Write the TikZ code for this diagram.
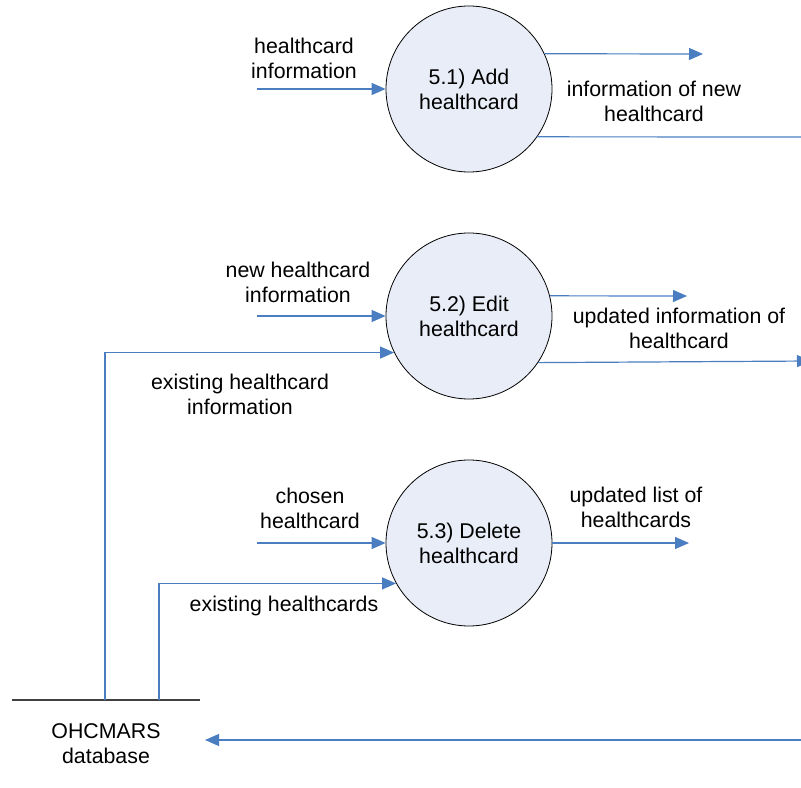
\documentclass[tikz,border=0pt]{standalone}
\usepackage{fontspec}
\setmainfont{Liberation Sans}
\usetikzlibrary{arrows.meta}

\definecolor{flowblue}{RGB}{74,126,193}
\definecolor{procfill}{RGB}{232,237,247}
\definecolor{storegray}{RGB}{64,64,64}

\tikzset{
 proc/.style={circle, draw=black, line width=0.6pt, fill=procfill, minimum size=124.5pt, inner sep=0pt, align=center},
 flow/.style={draw=flowblue, line width=0.9pt, -{Triangle[length=10.5pt,width=9pt]}},
 lbl/.style={align=center, inner sep=0pt}
}

\begin{document}
\begin{tikzpicture}[x=0.75pt, y=-0.75pt, font=\fontsize{16}{18.75}\selectfont]
 \path[use as bounding box, clip] (0,0) rectangle (801,788);

 \node[proc] (p1) at (469,89) {5.1) Add\\healthcard};
 \node[proc] (p2) at (469,316) {5.2) Edit\\healthcard};
 \node[proc] (p3) at (469,543) {5.3) Delete\\healthcard};

 \coordinate (i1) at (257,89);
 \coordinate (i2) at (257,316);
 \coordinate (i3) at (257,543);
 \coordinate (o1) at (703,54);
 \coordinate (o1b) at (830,137);
 \coordinate (o2) at (687,296);
 \coordinate (o2b) at (811,361);
 \coordinate (o3) at (689,543);
 \coordinate (s1) at (12,700);
 \coordinate (s2) at (200,700);
 \coordinate (d1) at (105,700);
 \coordinate (d2) at (159,700);
 \coordinate (r1) at (830,740);
 \coordinate (r2) at (205,740);

% データストア
 \draw[storegray, line width=0.9pt] (s1) -- (s2);
 \node[lbl] (db) at (106,744) {OHCMARS\\database};

 \draw[flow] (i1) -- (p1);
 \draw[flow] (p1.25) -- (o1);
 \draw[flow] (p1.-35) -- (o1b);
 \draw[flow] (i2) -- (p2);
 \draw[flow] (d1) |- (p2.206);
 \draw[flow] (p2.14) -- (o2);
 \draw[flow] (p2.-34) -- (o2b);
 \draw[flow] (i3) -- (p3);
 \draw[flow] (d2) |- (p3.209);
 \draw[flow] (p3) -- (o3);
 \draw[flow] (r1) -- (r2);

 \node[lbl] (l1) at (304,58) {healthcard\\information};
 \node[lbl] (l2) at (654,101) {information of new\\healthcard};
 \node[lbl] (l3) at (298,282) {new healthcard\\information};
 \node[lbl] (l4) at (679,328) {updated information of\\healthcard};
 \node[lbl] (l5) at (240,394) {existing healthcard\\information};
 \node[lbl] (l6) at (310,508) {chosen\\healthcard};
 \node[lbl] (l7) at (636,507) {updated list of\\healthcards};
 \node[lbl] (l8) at (284,606) {existing healthcards};
\end{tikzpicture}
\end{document}
